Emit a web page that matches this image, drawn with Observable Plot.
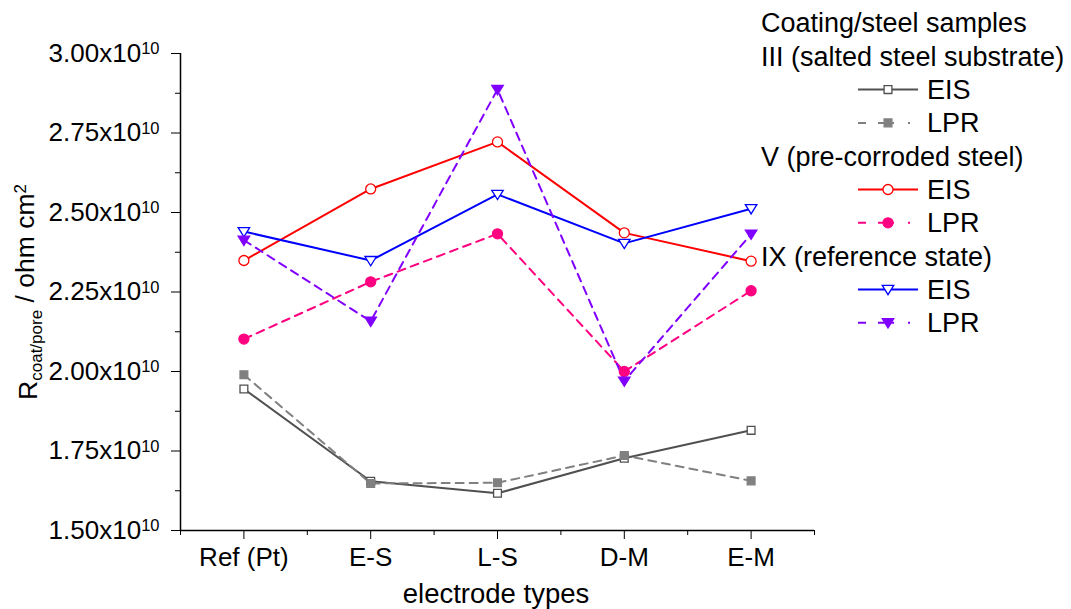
<!DOCTYPE html>
<html>
<head>
<meta charset="utf-8">
<script src="https://cdn.jsdelivr.net/npm/d3@7"></script>
<script src="https://cdn.jsdelivr.net/npm/@observablehq/plot@0.6"></script>
<style>
  html, body { margin: 0; padding: 0; background: #fff; }
  svg { display: block; }
</style>
</head>
<body>
<div id="chart"></div>
<script>
// ---- data ----
const categories = ["Ref (Pt)", "E-S", "L-S", "D-M", "E-M"];
const III_EIS = [1.945e10, 1.655e10, 1.617e10, 1.727e10, 1.815e10];
const III_LPR = [1.990e10, 1.648e10, 1.650e10, 1.736e10, 1.656e10];
const V_EIS   = [2.349e10, 2.574e10, 2.722e10, 2.436e10, 2.347e10];
const V_LPR   = [2.102e10, 2.282e10, 2.433e10, 2.000e10, 2.254e10];
const IX_EIS  = [2.440e10, 2.349e10, 2.557e10, 2.403e10, 2.512e10];
const IX_LPR  = [2.413e10, 2.158e10, 2.887e10, 1.970e10, 2.432e10];
const yTicks = [1.5e10, 1.75e10, 2.0e10, 2.25e10, 2.5e10, 2.75e10, 3.0e10];
const yMinor = [1.625e10, 1.875e10, 2.125e10, 2.375e10, 2.625e10, 2.875e10];
const xMinor = [-0.5, 0.5, 1.5, 2.5, 3.5, 4.5];

const groups = [
  {title: "III (salted steel substrate)", items: [
    {name: "EIS", values: III_EIS, color: "#505050", dash: null, symbol: "square", open: true},
    {name: "LPR", values: III_LPR, color: "#808080", dash: "8,6", symbol: "square", open: false}]},
  {title: "V (pre-corroded steel)", items: [
    {name: "EIS", values: V_EIS, color: "#ff0000", dash: null, symbol: "circle", open: true},
    {name: "LPR", values: V_LPR, color: "#ff0080", dash: "8,6", symbol: "circle", open: false}]},
  {title: "IX (reference state)", items: [
    {name: "EIS", values: IX_EIS, color: "#0000ff", dash: null, symbol: "tridown", open: true},
    {name: "LPR", values: IX_LPR, color: "#8000ff", dash: "8,6", symbol: "tridown", open: false}]}
];

const triDown = {
  draw(ctx, size) {
    const r = Math.sqrt(size / Math.PI);
    const h = r * 1.15;
    ctx.moveTo(-h, -r * 0.8);
    ctx.lineTo(h, -r * 0.8);
    ctx.lineTo(0, r * 1.05);
    ctx.closePath();
  }
};
const symFor = s => s === "tridown" ? triDown : s === "square" ? d3.symbolSquare : d3.symbolCircle;
const rFor = s => s === "square" ? 4.4 : 5;

const marks = [];
// axes
marks.push(Plot.axisY({ticks: yTicks, tickSize: 9, tickPadding: 12, fontSize: 26,
  tickFormat: d => (d / 1e10).toFixed(2) + "x10", label: null}));
marks.push(Plot.axisY({ticks: yMinor, tickSize: 5, tickFormat: () => "", label: null}));
marks.push(Plot.axisX({ticks: [0, 1, 2, 3, 4], tickSize: 9, tickPadding: 8, fontSize: 26,
  tickFormat: i => categories[i], label: null}));
marks.push(Plot.axisX({ticks: xMinor, tickSize: 5, tickFormat: () => "", label: null}));
marks.push(Plot.ruleX([-0.5], {y1: 1.5e10, y2: 3.0e10, stroke: "#000", strokeWidth: 1.5}));
marks.push(Plot.ruleY([1.5e10], {x1: -0.5, x2: 4.5, stroke: "#000", strokeWidth: 1.5}));

for (const g of groups) {
  for (const it of g.items) {
    const rows = it.values.map((v, i) => ({x: i, y: v}));
    marks.push(Plot.line(rows, {x: "x", y: "y", stroke: it.color, strokeWidth: 2,
      strokeDasharray: it.dash}));
  }
}
for (const g of groups) {
  for (const it of g.items) {
    const rows = it.values.map((v, i) => ({x: i, y: v}));
    marks.push(Plot.dot(rows, {x: "x", y: "y", symbol: symFor(it.symbol), r: rFor(it.symbol),
      stroke: it.color, strokeWidth: 1.3, fill: it.open ? "#fff" : it.color}));
  }
}

const plot = Plot.plot({
  width: 1071, height: 609,
  marginLeft: 180, marginRight: 257, marginTop: 53, marginBottom: 79,
  style: {fontFamily: "'Liberation Sans', Arial, sans-serif", color: "#000", background: "#fff"},
  x: {domain: [-0.5, 4.5]},
  y: {domain: [1.5e10, 3.0e10]},
  marks
});
document.getElementById("chart").appendChild(plot);

const svg = d3.select(plot);
const FONT = "'Liberation Sans', Arial, sans-serif";

// superscript exponents on y tick labels
svg.selectAll('g[aria-label="y-axis tick label"] text').each(function() {
  const t = d3.select(this);
  if (!t.text()) return;
  t.append("tspan").attr("dy", "-0.45em").attr("font-size", 16.5).text("10");
});

// y-axis title
const yt = svg.append("text").attr("font-family", FONT).attr("font-size", 26.5)
  .attr("text-anchor", "middle").attr("transform", "translate(37,292) rotate(-90)");
yt.append("tspan").text("R");
yt.append("tspan").attr("font-size", 17).attr("dy", "0.3em").text("coat/pore");
yt.append("tspan").attr("dy", "-0.3em").text(" / ohm cm");
yt.append("tspan").attr("font-size", 17).attr("dy", "-0.5em").text("2");

// x-axis title
svg.append("text").attr("font-family", FONT).attr("font-size", 27.5)
  .attr("text-anchor", "middle").attr("x", 496).attr("y", 603).text("electrode types");

// legend
const L = svg.append("g").attr("font-family", FONT).attr("font-size", 27).attr("text-anchor", "start");
const rowH = 33.3;
let row = 0;
const y0 = 23;
L.append("text").attr("x", 761).attr("y", y0 + row * rowH).attr("dy", "0.35em").text("Coating/steel samples");
row++;
for (const g of groups) {
  L.append("text").attr("x", 761).attr("y", y0 + row * rowH).attr("dy", "0.35em").text(g.title);
  row++;
  for (const it of g.items) {
    const yy = y0 + row * rowH;
    L.append("line").attr("x1", 858).attr("x2", 918).attr("y1", yy).attr("y2", yy)
      .attr("stroke", it.color).attr("stroke-width", 2)
      .attr("stroke-dasharray", it.dash ? "8,12,16,14,2" : null);
    const r = rFor(it.symbol);
    L.append("path").attr("transform", `translate(888,${yy})`)
      .attr("d", d3.symbol(symFor(it.symbol), r * r * Math.PI)())
      .attr("stroke", it.color).attr("stroke-width", 1.3).attr("fill", it.open ? "#fff" : it.color);
    L.append("text").attr("x", 927).attr("y", yy).attr("dy", "0.35em").text(it.name);
    row++;
  }
}
</script>
</body>
</html>
